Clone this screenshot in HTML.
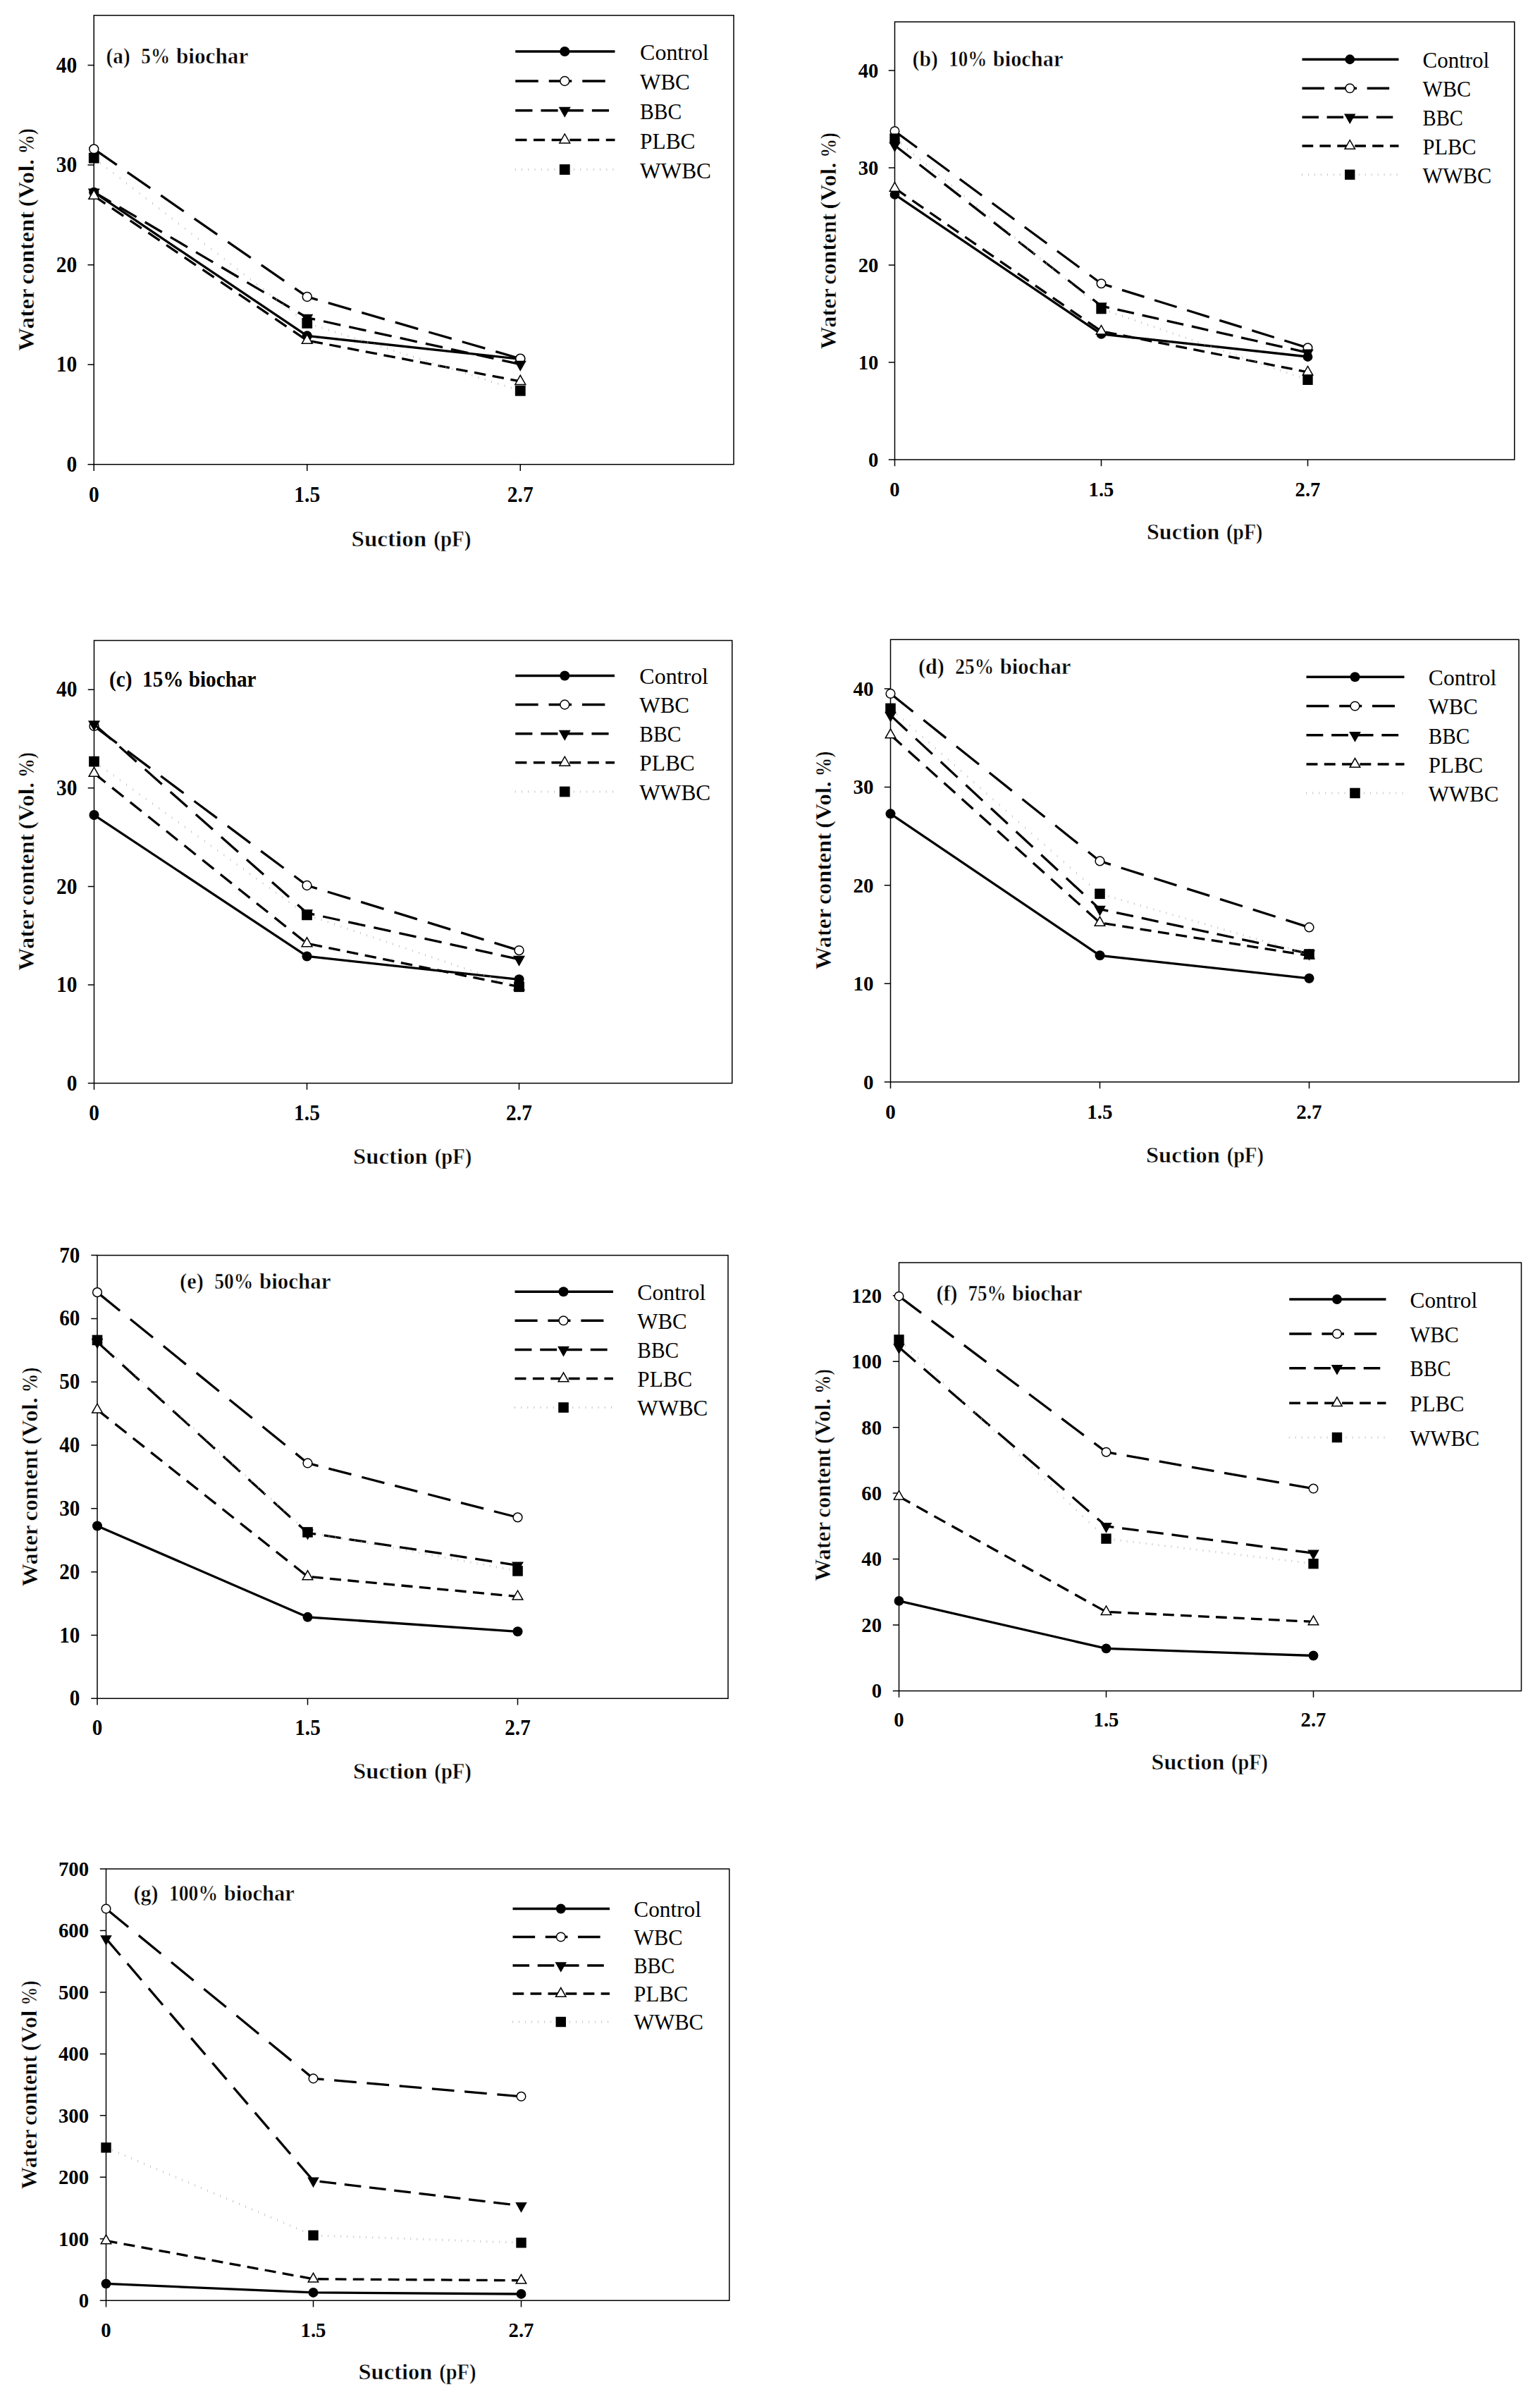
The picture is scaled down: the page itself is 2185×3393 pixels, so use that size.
<!DOCTYPE html>
<html lang="en">
<head>
<meta charset="utf-8">
<title>Water retention curves of biochar-amended soil</title>
<style>
html,body{margin:0;padding:0;background:#fff;}
body{width:2185px;height:3393px;overflow:hidden;}
svg{display:block;}
svg text{font-family:"Liberation Serif","DejaVu Serif",serif;fill:#000;}
</style>
</head>
<body>
<svg width="2185" height="3393" viewBox="0 0 2185 3393">
<rect x="0" y="0" width="2185" height="3393" fill="#fff"/>
<g id="chart-a">
<rect x="133.25" y="21.75" width="907.75" height="637" fill="none" stroke="#000" stroke-width="1.5"/>
<text x="109.25" y="668.95" font-size="30.9" font-weight="bold" text-anchor="end" textLength="14.75" lengthAdjust="spacingAndGlyphs">0</text>
<text x="109.25" y="527.39" font-size="30.9" font-weight="bold" text-anchor="end" textLength="29.51" lengthAdjust="spacingAndGlyphs">10</text>
<text x="109.25" y="385.84" font-size="30.9" font-weight="bold" text-anchor="end" textLength="29.51" lengthAdjust="spacingAndGlyphs">20</text>
<text x="109.25" y="244.28" font-size="30.9" font-weight="bold" text-anchor="end" textLength="29.51" lengthAdjust="spacingAndGlyphs">30</text>
<text x="109.25" y="102.73" font-size="30.9" font-weight="bold" text-anchor="end" textLength="29.51" lengthAdjust="spacingAndGlyphs">40</text>
<path d="M124.5 658.75H133.25M124.5 517.19H133.25M124.5 375.64H133.25M124.5 234.08H133.25M124.5 92.53H133.25M133.25 658.75V668M435.75 658.75V668M738.25 658.75V668" fill="none" stroke="#000" stroke-width="1.5"/>
<text x="133.25" y="711.5" font-size="30.9" font-weight="bold" text-anchor="middle" textLength="14.75" lengthAdjust="spacingAndGlyphs">0</text>
<text x="435.75" y="711.5" font-size="30.9" font-weight="bold" text-anchor="middle" textLength="36.89" lengthAdjust="spacingAndGlyphs">1.5</text>
<text x="738.25" y="711.5" font-size="30.9" font-weight="bold" text-anchor="middle" textLength="36.89" lengthAdjust="spacingAndGlyphs">2.7</text>
<text y="774.7" font-size="31.5" font-weight="bold" stroke="#fff" stroke-width="0.5"><tspan x="498.5" textLength="106.76" lengthAdjust="spacingAndGlyphs">Suction</tspan> <tspan x="615.22" textLength="53.18" lengthAdjust="spacingAndGlyphs">(pF)</tspan></text>
<text y="497.5" font-size="31.5" font-weight="bold" stroke="#fff" stroke-width="0.5" transform="rotate(-90 48 497.5)"><tspan x="47.6" textLength="87.97" lengthAdjust="spacingAndGlyphs">Water</tspan> <tspan x="141.91" textLength="103.66" lengthAdjust="spacingAndGlyphs">content</tspan> <tspan x="251.9" textLength="67.96" lengthAdjust="spacingAndGlyphs">(Vol.</tspan> <tspan x="326.91" textLength="36.49" lengthAdjust="spacingAndGlyphs">%)</tspan></text>
<text y="89.7" font-size="31.5" font-weight="bold" stroke="#fff" stroke-width="0.5"><tspan x="150.6" textLength="34.03" lengthAdjust="spacingAndGlyphs">(a)</tspan> <tspan x="200.36" textLength="40.74" lengthAdjust="spacingAndGlyphs">5%</tspan> <tspan x="249.91" textLength="102.49" lengthAdjust="spacingAndGlyphs">biochar</tspan></text>
<path d="M133.25 272.73L435.75 476.43L738.25 509.27" fill="none" stroke="#000" stroke-width="3.3"/>
<circle cx="133.25" cy="272.73" r="7.1" fill="#000"/>
<circle cx="435.75" cy="476.43" r="7.1" fill="#000"/>
<circle cx="738.25" cy="509.27" r="7.1" fill="#000"/>
<path d="M133.25 211.43L435.75 420.94" fill="none" stroke="#000" stroke-width="3.3" stroke-dasharray="39.53 18.25" stroke-dashoffset="0"/><path d="M435.75 420.94L738.25 508.7" fill="none" stroke="#000" stroke-width="3.3" stroke-dasharray="33.84 15.62" stroke-dashoffset="18.22"/>
<circle cx="133.25" cy="211.43" r="6.45" fill="#fff" stroke="#000" stroke-width="1.5"/>
<circle cx="435.75" cy="420.94" r="6.45" fill="#fff" stroke="#000" stroke-width="1.5"/>
<circle cx="738.25" cy="508.7" r="6.45" fill="#fff" stroke="#000" stroke-width="1.5"/>
<path d="M133.25 272.3L435.75 450.66" fill="none" stroke="#000" stroke-width="3.3" stroke-dasharray="28.09 13.93" stroke-dashoffset="0"/><path d="M435.75 450.66L738.25 516.77" fill="none" stroke="#000" stroke-width="3.3" stroke-dasharray="24.77 12.28" stroke-dashoffset="13.2"/>
<path d="M124.75 267.4L141.75 267.4L133.25 282.4Z" fill="#000"/>
<path d="M427.25 445.76L444.25 445.76L435.75 460.76Z" fill="#000"/>
<path d="M729.75 511.87L746.75 511.87L738.25 526.87Z" fill="#000"/>
<path d="M133.25 277.97L435.75 482.94" fill="none" stroke="#000" stroke-width="3.3" stroke-dasharray="19.57 11.48" stroke-dashoffset="0"/><path d="M435.75 482.94L738.25 540.98" fill="none" stroke="#000" stroke-width="3.3" stroke-dasharray="16.5 9.67" stroke-dashoffset="20.16"/>
<path d="M125.85 282.37L140.65 282.37L133.25 269.37Z" fill="#fff" stroke="#000" stroke-width="1.5" stroke-linejoin="miter"/>
<path d="M428.35 487.34L443.15 487.34L435.75 474.34Z" fill="#fff" stroke="#000" stroke-width="1.5" stroke-linejoin="miter"/>
<path d="M730.85 545.38L745.65 545.38L738.25 532.38Z" fill="#fff" stroke="#000" stroke-width="1.5" stroke-linejoin="miter"/>
<path d="M133.25 222.67v3M142.5 229.84v3M151.75 237v3M161 244.17v3M170.25 251.33v3M179.5 258.49v3M188.75 265.66v3M198 272.82v3M207.25 279.98v3M216.5 287.15v3M225.75 294.31v3M235 301.48v3M244.25 308.64v3M253.5 315.8v3M262.75 322.97v3M272 330.13v3M281.25 337.29v3M290.5 344.46v3M299.75 351.62v3M309 358.79v3M318.25 365.95v3M327.5 373.11v3M336.75 380.28v3M346 387.44v3M355.25 394.6v3M364.5 401.77v3M373.75 408.93v3M383 416.1v3M392.25 423.26v3M401.5 430.42v3M410.75 437.59v3M420 444.75v3M429.25 451.91v3M438.5 457.82v3M447.75 460.75v3M457 463.68v3M466.25 466.61v3M475.5 469.54v3M484.75 472.47v3M494 475.4v3M503.25 478.33v3M512.5 481.26v3M521.75 484.19v3M531 487.12v3M540.25 490.05v3M549.5 492.99v3M558.75 495.92v3M568 498.85v3M577.25 501.78v3M586.5 504.71v3M595.75 507.64v3M605 510.57v3M614.25 513.5v3M623.5 516.43v3M632.75 519.36v3M642 522.29v3M651.25 525.22v3M660.5 528.15v3M669.75 531.08v3M679 534.01v3M688.25 536.94v3M697.5 539.87v3M706.75 542.8v3M716 545.73v3M725.25 548.66v3M734.5 551.59v3" fill="none" stroke="#b4b4b4" stroke-width="0.8"/>
<rect x="125.85" y="216.77" width="14.8" height="14.8" fill="#000"/>
<rect x="428.35" y="451.05" width="14.8" height="14.8" fill="#000"/>
<rect x="730.85" y="546.88" width="14.8" height="14.8" fill="#000"/>
<path d="M731.25 73L872.5 73" fill="none" stroke="#000" stroke-width="3.3"/>
<circle cx="801.25" cy="73" r="7.1" fill="#000"/>
<text x="908.1" y="85" font-size="31.5" textLength="97.66" lengthAdjust="spacingAndGlyphs">Control</text>
<path d="M731.25 115L872.5 115" fill="none" stroke="#000" stroke-width="3.3" stroke-dasharray="32.5 15" stroke-dashoffset="0"/>
<circle cx="801.25" cy="115" r="6.45" fill="#fff" stroke="#000" stroke-width="1.5"/>
<text x="908.1" y="127" font-size="31.5" textLength="70.71" lengthAdjust="spacingAndGlyphs">WBC</text>
<path d="M731.25 156.75L872.5 156.75" fill="none" stroke="#000" stroke-width="3.3" stroke-dasharray="24.2 12" stroke-dashoffset="0"/>
<path d="M792.75 151.85L809.75 151.85L801.25 166.85Z" fill="#000"/>
<text x="908.1" y="168.75" font-size="31.5" textLength="59.08" lengthAdjust="spacingAndGlyphs">BBC</text>
<path d="M731.25 198.5L872.5 198.5" fill="none" stroke="#000" stroke-width="3.3" stroke-dasharray="16.2 9.5" stroke-dashoffset="0"/>
<path d="M793.85 202.9L808.65 202.9L801.25 189.9Z" fill="#fff" stroke="#000" stroke-width="1.5" stroke-linejoin="miter"/>
<text x="908.1" y="210.5" font-size="31.5" textLength="78.42" lengthAdjust="spacingAndGlyphs">PLBC</text>
<path d="M731.25 239v3M740.5 239v3M749.75 239v3M759 239v3M768.25 239v3M777.5 239v3M786.75 239v3M796 239v3M805.25 239v3M814.5 239v3M823.75 239v3M833 239v3M842.25 239v3M851.5 239v3M860.75 239v3M870 239v3" fill="none" stroke="#b4b4b4" stroke-width="0.8"/>
<rect x="793.85" y="233.1" width="14.8" height="14.8" fill="#000"/>
<text x="908.1" y="252.5" font-size="31.5" textLength="100.79" lengthAdjust="spacingAndGlyphs">WWBC</text>
</g>
<g id="chart-b">
<rect x="1269.5" y="31" width="879.25" height="621" fill="none" stroke="#000" stroke-width="1.5"/>
<text x="1246.3" y="661.89" font-size="29.97" font-weight="bold" text-anchor="end" textLength="14.31" lengthAdjust="spacingAndGlyphs">0</text>
<text x="1246.3" y="523.89" font-size="29.97" font-weight="bold" text-anchor="end" textLength="28.62" lengthAdjust="spacingAndGlyphs">10</text>
<text x="1246.3" y="385.89" font-size="29.97" font-weight="bold" text-anchor="end" textLength="28.62" lengthAdjust="spacingAndGlyphs">20</text>
<text x="1246.3" y="247.89" font-size="29.97" font-weight="bold" text-anchor="end" textLength="28.62" lengthAdjust="spacingAndGlyphs">30</text>
<text x="1246.3" y="109.89" font-size="29.97" font-weight="bold" text-anchor="end" textLength="28.62" lengthAdjust="spacingAndGlyphs">40</text>
<path d="M1260.75 652H1269.5M1260.75 514H1269.5M1260.75 376H1269.5M1260.75 238H1269.5M1260.75 100H1269.5M1269.5 652V661.25M1562.5 652V661.25M1855.5 652V661.25" fill="none" stroke="#000" stroke-width="1.5"/>
<text x="1269.5" y="703.5" font-size="29.97" font-weight="bold" text-anchor="middle" textLength="14.31" lengthAdjust="spacingAndGlyphs">0</text>
<text x="1562.5" y="703.5" font-size="29.97" font-weight="bold" text-anchor="middle" textLength="35.78" lengthAdjust="spacingAndGlyphs">1.5</text>
<text x="1855.5" y="703.5" font-size="29.97" font-weight="bold" text-anchor="middle" textLength="35.78" lengthAdjust="spacingAndGlyphs">2.7</text>
<text y="764.7" font-size="30.55" font-weight="bold" stroke="#fff" stroke-width="0.5"><tspan x="1627" textLength="103.33" lengthAdjust="spacingAndGlyphs">Suction</tspan> <tspan x="1739.93" textLength="51.47" lengthAdjust="spacingAndGlyphs">(pF)</tspan></text>
<text y="495" font-size="30.55" font-weight="bold" stroke="#fff" stroke-width="0.5" transform="rotate(-90 1186 495)"><tspan x="1185.6" textLength="85.62" lengthAdjust="spacingAndGlyphs">Water</tspan> <tspan x="1277.36" textLength="100.88" lengthAdjust="spacingAndGlyphs">content</tspan> <tspan x="1384.39" textLength="66.15" lengthAdjust="spacingAndGlyphs">(Vol.</tspan> <tspan x="1457.37" textLength="35.53" lengthAdjust="spacingAndGlyphs">%)</tspan></text>
<text y="94.3" font-size="30.55" font-weight="bold" stroke="#fff" stroke-width="0.5"><tspan x="1294.6" textLength="36.31" lengthAdjust="spacingAndGlyphs">(b)</tspan> <tspan x="1346.16" textLength="54.17" lengthAdjust="spacingAndGlyphs">10%</tspan> <tspan x="1408.86" textLength="99.54" lengthAdjust="spacingAndGlyphs">biochar</tspan></text>
<path d="M1269.5 275.95L1562.5 473.98L1855.5 506" fill="none" stroke="#000" stroke-width="3.3"/>
<circle cx="1269.5" cy="275.95" r="6.89" fill="#000"/>
<circle cx="1562.5" cy="473.98" r="6.89" fill="#000"/>
<circle cx="1855.5" cy="506" r="6.89" fill="#000"/>
<path d="M1269.5 185.97L1562.5 402.22" fill="none" stroke="#000" stroke-width="3.3" stroke-dasharray="39.18 18.08" stroke-dashoffset="0"/><path d="M1562.5 402.22L1855.5 493.3" fill="none" stroke="#000" stroke-width="3.3" stroke-dasharray="33.01 15.24" stroke-dashoffset="17.36"/>
<circle cx="1269.5" cy="185.97" r="6.24" fill="#fff" stroke="#000" stroke-width="1.5"/>
<circle cx="1562.5" cy="402.22" r="6.24" fill="#fff" stroke="#000" stroke-width="1.5"/>
<circle cx="1855.5" cy="493.3" r="6.24" fill="#fff" stroke="#000" stroke-width="1.5"/>
<path d="M1269.5 206.26L1562.5 433.96" fill="none" stroke="#000" stroke-width="3.3" stroke-dasharray="29.73 14.74" stroke-dashoffset="0"/><path d="M1562.5 433.96L1855.5 500.2" fill="none" stroke="#000" stroke-width="3.3" stroke-dasharray="24.06 11.93" stroke-dashoffset="12.42"/>
<path d="M1261.26 201.51L1277.74 201.51L1269.5 216.06Z" fill="#000"/>
<path d="M1554.26 429.21L1570.74 429.21L1562.5 443.76Z" fill="#000"/>
<path d="M1847.26 495.45L1863.74 495.45L1855.5 510Z" fill="#000"/>
<path d="M1269.5 266.98L1562.5 469.84" fill="none" stroke="#000" stroke-width="3.3" stroke-dasharray="19.11 11.21" stroke-dashoffset="0"/><path d="M1562.5 469.84L1855.5 527.8" fill="none" stroke="#000" stroke-width="3.3" stroke-dasharray="16.02 9.39" stroke-dashoffset="19.17"/>
<path d="M1262.32 271.25L1276.68 271.25L1269.5 258.64Z" fill="#fff" stroke="#000" stroke-width="1.5" stroke-linejoin="miter"/>
<path d="M1555.32 474.11L1569.68 474.11L1562.5 461.5Z" fill="#fff" stroke="#000" stroke-width="1.5" stroke-linejoin="miter"/>
<path d="M1848.32 532.07L1862.68 532.07L1855.5 519.46Z" fill="#fff" stroke="#000" stroke-width="1.5" stroke-linejoin="miter"/>
<path d="M1269.5 195.1v3M1278.47 202.49v3M1287.44 209.89v3M1296.42 217.28v3M1305.39 224.68v3M1314.36 232.07v3M1323.33 239.47v3M1332.3 246.86v3M1341.27 254.26v3M1350.25 261.65v3M1359.22 269.05v3M1368.19 276.44v3M1377.16 283.84v3M1386.13 291.23v3M1395.1 298.63v3M1404.08 306.02v3M1413.05 313.42v3M1422.02 320.81v3M1430.99 328.21v3M1439.96 335.6v3M1448.93 342.99v3M1457.91 350.39v3M1466.88 357.78v3M1475.85 365.18v3M1484.82 372.57v3M1493.79 379.97v3M1502.76 387.36v3M1511.74 394.76v3M1520.71 402.15v3M1529.68 409.55v3M1538.65 416.94v3M1547.62 424.34v3M1556.59 431.73v3M1565.57 437.65v3M1574.54 440.74v3M1583.51 443.82v3M1592.48 446.91v3M1601.45 449.99v3M1610.42 453.08v3M1619.4 456.16v3M1628.37 459.25v3M1637.34 462.33v3M1646.31 465.42v3M1655.28 468.5v3M1664.25 471.59v3M1673.23 474.67v3M1682.2 477.75v3M1691.17 480.84v3M1700.14 483.92v3M1709.11 487.01v3M1718.08 490.09v3M1727.06 493.18v3M1736.03 496.26v3M1745 499.35v3M1753.97 502.43v3M1762.94 505.52v3M1771.91 508.6v3M1780.89 511.69v3M1789.86 514.77v3M1798.83 517.86v3M1807.8 520.94v3M1816.77 524.02v3M1825.74 527.11v3M1834.72 530.19v3M1843.69 533.28v3M1852.66 536.36v3" fill="none" stroke="#b4b4b4" stroke-width="0.8"/>
<rect x="1262.32" y="189.42" width="14.35" height="14.35" fill="#000"/>
<rect x="1555.32" y="430.92" width="14.35" height="14.35" fill="#000"/>
<rect x="1848.32" y="531.66" width="14.35" height="14.35" fill="#000"/>
<path d="M1847.5 84.25L1984.5 84.25" fill="none" stroke="#000" stroke-width="3.3"/>
<circle cx="1915.25" cy="84.25" r="6.89" fill="#000"/>
<text x="2018.6" y="96.25" font-size="30.55" textLength="94.58" lengthAdjust="spacingAndGlyphs">Control</text>
<path d="M1847.5 125.25L1984.5 125.25" fill="none" stroke="#000" stroke-width="3.3" stroke-dasharray="31.52 14.55" stroke-dashoffset="0"/>
<circle cx="1915.25" cy="125.25" r="6.24" fill="#fff" stroke="#000" stroke-width="1.5"/>
<text x="2018.6" y="137.25" font-size="30.55" textLength="68.47" lengthAdjust="spacingAndGlyphs">WBC</text>
<path d="M1847.5 166.25L1984.5 166.25" fill="none" stroke="#000" stroke-width="3.3" stroke-dasharray="23.47 11.64" stroke-dashoffset="0"/>
<path d="M1907.01 161.5L1923.49 161.5L1915.25 176.05Z" fill="#000"/>
<text x="2018.6" y="178.25" font-size="30.55" textLength="57.22" lengthAdjust="spacingAndGlyphs">BBC</text>
<path d="M1847.5 207L1984.5 207" fill="none" stroke="#000" stroke-width="3.3" stroke-dasharray="15.71 9.21" stroke-dashoffset="0"/>
<path d="M1908.07 211.27L1922.43 211.27L1915.25 198.66Z" fill="#fff" stroke="#000" stroke-width="1.5" stroke-linejoin="miter"/>
<text x="2018.6" y="219" font-size="30.55" textLength="75.94" lengthAdjust="spacingAndGlyphs">PLBC</text>
<path d="M1847.5 246.25v3M1856.47 246.25v3M1865.44 246.25v3M1874.42 246.25v3M1883.39 246.25v3M1892.36 246.25v3M1901.33 246.25v3M1910.3 246.25v3M1919.27 246.25v3M1928.25 246.25v3M1937.22 246.25v3M1946.19 246.25v3M1955.16 246.25v3M1964.13 246.25v3M1973.1 246.25v3M1982.08 246.25v3" fill="none" stroke="#b4b4b4" stroke-width="0.8"/>
<rect x="1908.07" y="240.57" width="14.35" height="14.35" fill="#000"/>
<text x="2018.6" y="259.75" font-size="30.55" textLength="97.6" lengthAdjust="spacingAndGlyphs">WWBC</text>
</g>
<g id="chart-c">
<rect x="133.5" y="908.5" width="905.25" height="628" fill="none" stroke="#000" stroke-width="1.5"/>
<text x="109.5" y="1546.66" font-size="30.79" font-weight="bold" text-anchor="end" textLength="14.7" lengthAdjust="spacingAndGlyphs">0</text>
<text x="109.5" y="1407.11" font-size="30.79" font-weight="bold" text-anchor="end" textLength="29.41" lengthAdjust="spacingAndGlyphs">10</text>
<text x="109.5" y="1267.55" font-size="30.79" font-weight="bold" text-anchor="end" textLength="29.41" lengthAdjust="spacingAndGlyphs">20</text>
<text x="109.5" y="1128" font-size="30.79" font-weight="bold" text-anchor="end" textLength="29.41" lengthAdjust="spacingAndGlyphs">30</text>
<text x="109.5" y="988.44" font-size="30.79" font-weight="bold" text-anchor="end" textLength="29.41" lengthAdjust="spacingAndGlyphs">40</text>
<path d="M124.75 1536.5H133.5M124.75 1396.94H133.5M124.75 1257.39H133.5M124.75 1117.83H133.5M124.75 978.28H133.5M133.5 1536.5V1545.75M435.5 1536.5V1545.75M736.5 1536.5V1545.75" fill="none" stroke="#000" stroke-width="1.5"/>
<text x="133.5" y="1588.5" font-size="30.79" font-weight="bold" text-anchor="middle" textLength="14.7" lengthAdjust="spacingAndGlyphs">0</text>
<text x="435.5" y="1588.5" font-size="30.79" font-weight="bold" text-anchor="middle" textLength="36.76" lengthAdjust="spacingAndGlyphs">1.5</text>
<text x="736.5" y="1588.5" font-size="30.79" font-weight="bold" text-anchor="middle" textLength="36.76" lengthAdjust="spacingAndGlyphs">2.7</text>
<text y="1650.7" font-size="31.39" font-weight="bold" stroke="#fff" stroke-width="0.5"><tspan x="501" textLength="105.83" lengthAdjust="spacingAndGlyphs">Suction</tspan> <tspan x="616.69" textLength="52.71" lengthAdjust="spacingAndGlyphs">(pF)</tspan></text>
<text y="1376.5" font-size="31.39" font-weight="bold" stroke="#fff" stroke-width="0.5" transform="rotate(-90 48 1376.5)"><tspan x="47.6" textLength="86.31" lengthAdjust="spacingAndGlyphs">Water</tspan> <tspan x="140.11" textLength="101.7" lengthAdjust="spacingAndGlyphs">content</tspan> <tspan x="248.01" textLength="66.68" lengthAdjust="spacingAndGlyphs">(Vol.</tspan> <tspan x="321.59" textLength="35.81" lengthAdjust="spacingAndGlyphs">%)</tspan></text>
<text x="155" y="973.5" font-size="31.39" font-weight="bold" textLength="208.5" lengthAdjust="spacingAndGlyphs">(c)&#160; 15% biochar</text>
<path d="M133.5 1156.07L435.5 1356.47L736.5 1389.27" fill="none" stroke="#000" stroke-width="3.3"/>
<circle cx="133.5" cy="1156.07" r="7.07" fill="#000"/>
<circle cx="435.5" cy="1356.47" r="7.07" fill="#000"/>
<circle cx="736.5" cy="1389.27" r="7.07" fill="#000"/>
<path d="M133.5 1029.91L435.5 1255.99" fill="none" stroke="#000" stroke-width="3.3" stroke-dasharray="40.45 18.67" stroke-dashoffset="0"/><path d="M435.5 1255.99L736.5 1348.1" fill="none" stroke="#000" stroke-width="3.3" stroke-dasharray="33.87 15.63" stroke-dashoffset="18.83"/>
<circle cx="133.5" cy="1029.91" r="6.42" fill="#fff" stroke="#000" stroke-width="1.5"/>
<circle cx="435.5" cy="1255.99" r="6.42" fill="#fff" stroke="#000" stroke-width="1.5"/>
<circle cx="736.5" cy="1348.1" r="6.42" fill="#fff" stroke="#000" stroke-width="1.5"/>
<path d="M133.5 1027.12L435.5 1295.07" fill="none" stroke="#000" stroke-width="3.3" stroke-dasharray="32.24 15.99" stroke-dashoffset="0"/><path d="M435.5 1295.07L736.5 1360.66" fill="none" stroke="#000" stroke-width="3.3" stroke-dasharray="24.68 12.24" stroke-dashoffset="13.74"/>
<path d="M125.03 1022.24L141.97 1022.24L133.5 1037.19Z" fill="#000"/>
<path d="M427.03 1290.19L443.97 1290.19L435.5 1305.13Z" fill="#000"/>
<path d="M728.03 1355.78L744.97 1355.78L736.5 1370.72Z" fill="#000"/>
<path d="M133.5 1096.9L435.5 1338.33" fill="none" stroke="#000" stroke-width="3.3" stroke-dasharray="20.67 12.12" stroke-dashoffset="0"/><path d="M435.5 1338.33L736.5 1399.74" fill="none" stroke="#000" stroke-width="3.3" stroke-dasharray="16.48 9.66" stroke-dashoffset="20.72"/>
<path d="M126.13 1101.28L140.87 1101.28L133.5 1088.33Z" fill="#fff" stroke="#000" stroke-width="1.5" stroke-linejoin="miter"/>
<path d="M428.13 1342.72L442.87 1342.72L435.5 1329.76Z" fill="#fff" stroke="#000" stroke-width="1.5" stroke-linejoin="miter"/>
<path d="M729.13 1404.12L743.87 1404.12L736.5 1391.17Z" fill="#fff" stroke="#000" stroke-width="1.5" stroke-linejoin="miter"/>
<path d="M133.5 1078.65v3M142.72 1085.3v3M151.93 1091.94v3M161.15 1098.59v3M170.37 1105.23v3M179.59 1111.88v3M188.8 1118.52v3M198.02 1125.17v3M207.24 1131.81v3M216.46 1138.45v3M225.67 1145.1v3M234.89 1151.74v3M244.11 1158.39v3M253.32 1165.03v3M262.54 1171.68v3M271.76 1178.32v3M280.98 1184.97v3M290.19 1191.61v3M299.41 1198.26v3M308.63 1204.9v3M317.85 1211.54v3M327.06 1218.19v3M336.28 1224.83v3M345.5 1231.48v3M354.71 1238.12v3M363.93 1244.77v3M373.15 1251.41v3M382.37 1258.06v3M391.58 1264.7v3M400.8 1271.35v3M410.02 1277.99v3M419.23 1284.63v3M428.45 1291.28v3M437.67 1297.09v3M446.89 1300.21v3M456.1 1303.33v3M465.32 1306.45v3M474.54 1309.57v3M483.76 1312.69v3M492.97 1315.81v3M502.19 1318.93v3M511.41 1322.05v3M520.62 1325.17v3M529.84 1328.29v3M539.06 1331.41v3M548.28 1334.53v3M557.49 1337.65v3M566.71 1340.77v3M575.93 1343.89v3M585.15 1347.01v3M594.36 1350.13v3M603.58 1353.25v3M612.8 1356.37v3M622.01 1359.49v3M631.23 1362.61v3M640.45 1365.73v3M649.67 1368.85v3M658.88 1371.97v3M668.1 1375.09v3M677.32 1378.21v3M686.54 1381.32v3M695.75 1384.44v3M704.97 1387.56v3M714.19 1390.68v3M723.4 1393.8v3M732.62 1396.92v3" fill="none" stroke="#b4b4b4" stroke-width="0.8"/>
<rect x="126.13" y="1072.78" width="14.75" height="14.75" fill="#000"/>
<rect x="428.13" y="1290.49" width="14.75" height="14.75" fill="#000"/>
<rect x="729.13" y="1392.36" width="14.75" height="14.75" fill="#000"/>
<path d="M731.25 958.5L872 958.5" fill="none" stroke="#000" stroke-width="3.3"/>
<circle cx="801.25" cy="958.5" r="7.07" fill="#000"/>
<text x="907.35" y="970" font-size="31.39" textLength="97.66" lengthAdjust="spacingAndGlyphs">Control</text>
<path d="M731.25 999.5L872 999.5" fill="none" stroke="#000" stroke-width="3.3" stroke-dasharray="32.38 14.95" stroke-dashoffset="0"/>
<circle cx="801.25" cy="999.5" r="6.42" fill="#fff" stroke="#000" stroke-width="1.5"/>
<text x="907.35" y="1011" font-size="31.39" textLength="70.71" lengthAdjust="spacingAndGlyphs">WBC</text>
<path d="M731.25 1040.75L872 1040.75" fill="none" stroke="#000" stroke-width="3.3" stroke-dasharray="24.11 11.96" stroke-dashoffset="0"/>
<path d="M792.78 1035.87L809.72 1035.87L801.25 1050.81Z" fill="#000"/>
<text x="907.35" y="1052.25" font-size="31.39" textLength="59.08" lengthAdjust="spacingAndGlyphs">BBC</text>
<path d="M731.25 1081.75L872 1081.75" fill="none" stroke="#000" stroke-width="3.3" stroke-dasharray="16.14 9.47" stroke-dashoffset="0"/>
<path d="M793.88 1086.13L808.62 1086.13L801.25 1073.18Z" fill="#fff" stroke="#000" stroke-width="1.5" stroke-linejoin="miter"/>
<text x="907.35" y="1093.25" font-size="31.39" textLength="78.42" lengthAdjust="spacingAndGlyphs">PLBC</text>
<path d="M731.25 1121.5v3M740.47 1121.5v3M749.68 1121.5v3M758.9 1121.5v3M768.12 1121.5v3M777.34 1121.5v3M786.55 1121.5v3M795.77 1121.5v3M804.99 1121.5v3M814.21 1121.5v3M823.42 1121.5v3M832.64 1121.5v3M841.86 1121.5v3M851.07 1121.5v3M860.29 1121.5v3M869.51 1121.5v3" fill="none" stroke="#b4b4b4" stroke-width="0.8"/>
<rect x="793.88" y="1115.63" width="14.75" height="14.75" fill="#000"/>
<text x="907.35" y="1134.5" font-size="31.39" textLength="100.79" lengthAdjust="spacingAndGlyphs">WWBC</text>
</g>
<g id="chart-d">
<rect x="1263.5" y="907.25" width="891.5" height="627.5" fill="none" stroke="#000" stroke-width="1.5"/>
<text x="1239.5" y="1544.79" font-size="30.41" font-weight="bold" text-anchor="end" textLength="14.52" lengthAdjust="spacingAndGlyphs">0</text>
<text x="1239.5" y="1405.34" font-size="30.41" font-weight="bold" text-anchor="end" textLength="29.04" lengthAdjust="spacingAndGlyphs">10</text>
<text x="1239.5" y="1265.9" font-size="30.41" font-weight="bold" text-anchor="end" textLength="29.04" lengthAdjust="spacingAndGlyphs">20</text>
<text x="1239.5" y="1126.45" font-size="30.41" font-weight="bold" text-anchor="end" textLength="29.04" lengthAdjust="spacingAndGlyphs">30</text>
<text x="1239.5" y="987.01" font-size="30.41" font-weight="bold" text-anchor="end" textLength="29.04" lengthAdjust="spacingAndGlyphs">40</text>
<path d="M1254.75 1534.75H1263.5M1254.75 1395.31H1263.5M1254.75 1255.86H1263.5M1254.75 1116.42H1263.5M1254.75 976.97H1263.5M1263.5 1534.75V1544M1560.5 1534.75V1544M1857.5 1534.75V1544" fill="none" stroke="#000" stroke-width="1.5"/>
<text x="1263.5" y="1586.5" font-size="30.41" font-weight="bold" text-anchor="middle" textLength="14.52" lengthAdjust="spacingAndGlyphs">0</text>
<text x="1560.5" y="1586.5" font-size="30.41" font-weight="bold" text-anchor="middle" textLength="36.3" lengthAdjust="spacingAndGlyphs">1.5</text>
<text x="1857.5" y="1586.5" font-size="30.41" font-weight="bold" text-anchor="middle" textLength="36.3" lengthAdjust="spacingAndGlyphs">2.7</text>
<text y="1649.2" font-size="31" font-weight="bold" stroke="#fff" stroke-width="0.5"><tspan x="1626" textLength="104.89" lengthAdjust="spacingAndGlyphs">Suction</tspan> <tspan x="1740.65" textLength="52.25" lengthAdjust="spacingAndGlyphs">(pF)</tspan></text>
<text y="1375" font-size="31" font-weight="bold" stroke="#fff" stroke-width="0.5" transform="rotate(-90 1179 1375)"><tspan x="1178.6" textLength="86.31" lengthAdjust="spacingAndGlyphs">Water</tspan> <tspan x="1271.11" textLength="101.7" lengthAdjust="spacingAndGlyphs">content</tspan> <tspan x="1379.01" textLength="66.68" lengthAdjust="spacingAndGlyphs">(Vol.</tspan> <tspan x="1452.59" textLength="35.81" lengthAdjust="spacingAndGlyphs">%)</tspan></text>
<text y="955.7" font-size="31" font-weight="bold" stroke="#fff" stroke-width="0.5"><tspan x="1303.1" textLength="36.73" lengthAdjust="spacingAndGlyphs">(d)</tspan> <tspan x="1355.26" textLength="54.79" lengthAdjust="spacingAndGlyphs">25%</tspan> <tspan x="1418.7" textLength="100.7" lengthAdjust="spacingAndGlyphs">biochar</tspan></text>
<path d="M1263.5 1154.35L1560.5 1355.29L1857.5 1387.78" fill="none" stroke="#000" stroke-width="3.3"/>
<circle cx="1263.5" cy="1154.35" r="6.99" fill="#000"/>
<circle cx="1560.5" cy="1355.29" r="6.99" fill="#000"/>
<circle cx="1857.5" cy="1387.78" r="6.99" fill="#000"/>
<path d="M1263.5 983.94L1560.5 1221.42" fill="none" stroke="#000" stroke-width="3.3" stroke-dasharray="40.95 18.9" stroke-dashoffset="0"/><path d="M1560.5 1221.42L1857.5 1315.4" fill="none" stroke="#000" stroke-width="3.3" stroke-dasharray="33.55 15.48" stroke-dashoffset="17.35"/>
<circle cx="1263.5" cy="983.94" r="6.34" fill="#fff" stroke="#000" stroke-width="1.5"/>
<circle cx="1560.5" cy="1221.42" r="6.34" fill="#fff" stroke="#000" stroke-width="1.5"/>
<circle cx="1857.5" cy="1315.4" r="6.34" fill="#fff" stroke="#000" stroke-width="1.5"/>
<path d="M1263.5 1014.62L1560.5 1289.61" fill="none" stroke="#000" stroke-width="3.3" stroke-dasharray="32.45 16.09" stroke-dashoffset="0"/><path d="M1560.5 1289.61L1857.5 1352.78" fill="none" stroke="#000" stroke-width="3.3" stroke-dasharray="24.35 12.07" stroke-dashoffset="12.28"/>
<path d="M1255.14 1009.8L1271.86 1009.8L1263.5 1024.56Z" fill="#000"/>
<path d="M1552.14 1284.78L1568.86 1284.78L1560.5 1299.55Z" fill="#000"/>
<path d="M1849.14 1347.95L1865.86 1347.95L1857.5 1362.71Z" fill="#000"/>
<path d="M1263.5 1042.51L1560.5 1308.85" fill="none" stroke="#000" stroke-width="3.3" stroke-dasharray="21.41 12.56" stroke-dashoffset="0"/><path d="M1560.5 1308.85L1857.5 1355.56" fill="none" stroke="#000" stroke-width="3.3" stroke-dasharray="16.14 9.46" stroke-dashoffset="19.03"/>
<path d="M1256.22 1046.84L1270.78 1046.84L1263.5 1034.05Z" fill="#fff" stroke="#000" stroke-width="1.5" stroke-linejoin="miter"/>
<path d="M1553.22 1313.18L1567.78 1313.18L1560.5 1300.39Z" fill="#fff" stroke="#000" stroke-width="1.5" stroke-linejoin="miter"/>
<path d="M1850.22 1359.89L1864.78 1359.89L1857.5 1347.1Z" fill="#fff" stroke="#000" stroke-width="1.5" stroke-linejoin="miter"/>
<path d="M1263.5 1003.36v3M1272.6 1011.42v3M1281.71 1019.48v3M1290.81 1027.54v3M1299.91 1035.6v3M1309.01 1043.66v3M1318.12 1051.72v3M1327.22 1059.78v3M1336.32 1067.84v3M1345.42 1075.9v3M1354.53 1083.96v3M1363.63 1092.03v3M1372.73 1100.09v3M1381.83 1108.15v3M1390.94 1116.21v3M1400.04 1124.27v3M1409.14 1132.33v3M1418.25 1140.39v3M1427.35 1148.45v3M1436.45 1156.51v3M1445.55 1164.57v3M1454.66 1172.63v3M1463.76 1180.69v3M1472.86 1188.75v3M1481.96 1196.81v3M1491.07 1204.87v3M1500.17 1212.93v3M1509.27 1220.99v3M1518.37 1229.05v3M1527.48 1237.11v3M1536.58 1245.17v3M1545.68 1253.23v3M1554.78 1261.29v3M1563.89 1267.33v3M1572.99 1269.95v3M1582.09 1272.58v3M1591.2 1275.2v3M1600.3 1277.83v3M1609.4 1280.45v3M1618.5 1283.07v3M1627.61 1285.7v3M1636.71 1288.32v3M1645.81 1290.95v3M1654.91 1293.57v3M1664.02 1296.2v3M1673.12 1298.82v3M1682.22 1301.44v3M1691.32 1304.07v3M1700.43 1306.69v3M1709.53 1309.32v3M1718.63 1311.94v3M1727.74 1314.56v3M1736.84 1317.19v3M1745.94 1319.81v3M1755.04 1322.44v3M1764.15 1325.06v3M1773.25 1327.68v3M1782.35 1330.31v3M1791.45 1332.93v3M1800.56 1335.56v3M1809.66 1338.18v3M1818.76 1340.8v3M1827.86 1343.43v3M1836.97 1346.05v3M1846.07 1348.68v3M1855.17 1351.3v3" fill="none" stroke="#b4b4b4" stroke-width="0.8"/>
<rect x="1256.22" y="997.58" width="14.56" height="14.56" fill="#000"/>
<rect x="1553.22" y="1260.57" width="14.56" height="14.56" fill="#000"/>
<rect x="1850.22" y="1346.19" width="14.56" height="14.56" fill="#000"/>
<path d="M1853.5 960.25L1992.5 960.25" fill="none" stroke="#000" stroke-width="3.3"/>
<circle cx="1922.5" cy="960.25" r="6.99" fill="#000"/>
<text x="2026.85" y="972" font-size="31" textLength="96.38" lengthAdjust="spacingAndGlyphs">Control</text>
<path d="M1853.5 1001.5L1992.5 1001.5" fill="none" stroke="#000" stroke-width="3.3" stroke-dasharray="31.98 14.76" stroke-dashoffset="0"/>
<circle cx="1922.5" cy="1001.5" r="6.34" fill="#fff" stroke="#000" stroke-width="1.5"/>
<text x="2026.85" y="1013.25" font-size="31" textLength="69.78" lengthAdjust="spacingAndGlyphs">WBC</text>
<path d="M1853.5 1042.75L1992.5 1042.75" fill="none" stroke="#000" stroke-width="3.3" stroke-dasharray="23.81 11.81" stroke-dashoffset="0"/>
<path d="M1914.14 1037.93L1930.86 1037.93L1922.5 1052.69Z" fill="#000"/>
<text x="2026.85" y="1054.5" font-size="31" textLength="58.31" lengthAdjust="spacingAndGlyphs">BBC</text>
<path d="M1853.5 1084L1992.5 1084" fill="none" stroke="#000" stroke-width="3.3" stroke-dasharray="15.94 9.35" stroke-dashoffset="0"/>
<path d="M1915.22 1088.33L1929.78 1088.33L1922.5 1075.54Z" fill="#fff" stroke="#000" stroke-width="1.5" stroke-linejoin="miter"/>
<text x="2026.85" y="1095.75" font-size="31" textLength="77.39" lengthAdjust="spacingAndGlyphs">PLBC</text>
<path d="M1853.5 1123.5v3M1862.6 1123.5v3M1871.71 1123.5v3M1880.81 1123.5v3M1889.91 1123.5v3M1899.01 1123.5v3M1908.12 1123.5v3M1917.22 1123.5v3M1926.32 1123.5v3M1935.42 1123.5v3M1944.53 1123.5v3M1953.63 1123.5v3M1962.73 1123.5v3M1971.83 1123.5v3M1980.94 1123.5v3M1990.04 1123.5v3" fill="none" stroke="#b4b4b4" stroke-width="0.8"/>
<rect x="1915.22" y="1117.72" width="14.56" height="14.56" fill="#000"/>
<text x="2026.85" y="1136.75" font-size="31" textLength="99.46" lengthAdjust="spacingAndGlyphs">WWBC</text>
</g>
<g id="chart-e">
<rect x="138" y="1780.6" width="895" height="628.65" fill="none" stroke="#000" stroke-width="1.5"/>
<text x="113.3" y="2419.32" font-size="30.52" font-weight="bold" text-anchor="end" textLength="14.57" lengthAdjust="spacingAndGlyphs">0</text>
<text x="113.3" y="2329.52" font-size="30.52" font-weight="bold" text-anchor="end" textLength="29.14" lengthAdjust="spacingAndGlyphs">10</text>
<text x="113.3" y="2239.71" font-size="30.52" font-weight="bold" text-anchor="end" textLength="29.14" lengthAdjust="spacingAndGlyphs">20</text>
<text x="113.3" y="2149.9" font-size="30.52" font-weight="bold" text-anchor="end" textLength="29.14" lengthAdjust="spacingAndGlyphs">30</text>
<text x="113.3" y="2060.1" font-size="30.52" font-weight="bold" text-anchor="end" textLength="29.14" lengthAdjust="spacingAndGlyphs">40</text>
<text x="113.3" y="1970.29" font-size="30.52" font-weight="bold" text-anchor="end" textLength="29.14" lengthAdjust="spacingAndGlyphs">50</text>
<text x="113.3" y="1880.48" font-size="30.52" font-weight="bold" text-anchor="end" textLength="29.14" lengthAdjust="spacingAndGlyphs">60</text>
<text x="113.3" y="1790.67" font-size="30.52" font-weight="bold" text-anchor="end" textLength="29.14" lengthAdjust="spacingAndGlyphs">70</text>
<path d="M129.25 2409.25H138M129.25 2319.44H138M129.25 2229.64H138M129.25 2139.83H138M129.25 2050.02H138M129.25 1960.21H138M129.25 1870.41H138M129.25 1780.6H138M138 2409.25V2418.5M436.5 2409.25V2418.5M734.5 2409.25V2418.5" fill="none" stroke="#000" stroke-width="1.5"/>
<text x="138" y="2461" font-size="30.52" font-weight="bold" text-anchor="middle" textLength="14.57" lengthAdjust="spacingAndGlyphs">0</text>
<text x="436.5" y="2461" font-size="30.52" font-weight="bold" text-anchor="middle" textLength="36.43" lengthAdjust="spacingAndGlyphs">1.5</text>
<text x="734.5" y="2461" font-size="30.52" font-weight="bold" text-anchor="middle" textLength="36.43" lengthAdjust="spacingAndGlyphs">2.7</text>
<text y="2523.2" font-size="31.11" font-weight="bold" stroke="#fff" stroke-width="0.5"><tspan x="501" textLength="105.51" lengthAdjust="spacingAndGlyphs">Suction</tspan> <tspan x="616.34" textLength="52.56" lengthAdjust="spacingAndGlyphs">(pF)</tspan></text>
<text y="2250" font-size="31.11" font-weight="bold" stroke="#fff" stroke-width="0.5" transform="rotate(-90 53 2250)"><tspan x="52.6" textLength="86.59" lengthAdjust="spacingAndGlyphs">Water</tspan> <tspan x="145.41" textLength="102.02" lengthAdjust="spacingAndGlyphs">content</tspan> <tspan x="253.66" textLength="66.9" lengthAdjust="spacingAndGlyphs">(Vol.</tspan> <tspan x="327.47" textLength="35.93" lengthAdjust="spacingAndGlyphs">%)</tspan></text>
<text y="1828.2" font-size="31.11" font-weight="bold" stroke="#fff" stroke-width="0.5"><tspan x="255.1" textLength="33.65" lengthAdjust="spacingAndGlyphs">(e)</tspan> <tspan x="304.28" textLength="55.12" lengthAdjust="spacingAndGlyphs">50%</tspan> <tspan x="368.1" textLength="101.3" lengthAdjust="spacingAndGlyphs">biochar</tspan></text>
<path d="M138 2164.44L436.5 2293.85L734.5 2314.32" fill="none" stroke="#000" stroke-width="3.3"/>
<circle cx="138" cy="2164.44" r="7.01" fill="#000"/>
<circle cx="436.5" cy="2293.85" r="7.01" fill="#000"/>
<circle cx="734.5" cy="2314.32" r="7.01" fill="#000"/>
<path d="M138 1833.14L436.5 2075.44" fill="none" stroke="#000" stroke-width="3.3" stroke-dasharray="41.34 19.08" stroke-dashoffset="0"/><path d="M436.5 2075.44L734.5 2152.4" fill="none" stroke="#000" stroke-width="3.3" stroke-dasharray="33.15 15.3" stroke-dashoffset="17.59"/>
<circle cx="138" cy="1833.14" r="6.36" fill="#fff" stroke="#000" stroke-width="1.5"/>
<circle cx="436.5" cy="2075.44" r="6.36" fill="#fff" stroke="#000" stroke-width="1.5"/>
<circle cx="734.5" cy="2152.4" r="6.36" fill="#fff" stroke="#000" stroke-width="1.5"/>
<path d="M138 1903.64L436.5 2174.4" fill="none" stroke="#000" stroke-width="3.3" stroke-dasharray="32.27 16" stroke-dashoffset="0"/><path d="M436.5 2174.4L734.5 2220.39" fill="none" stroke="#000" stroke-width="3.3" stroke-dasharray="24.18 11.99" stroke-dashoffset="12.64"/>
<path d="M129.61 1898.8L146.39 1898.8L138 1913.61Z" fill="#000"/>
<path d="M428.11 2169.57L444.89 2169.57L436.5 2184.38Z" fill="#000"/>
<path d="M726.11 2215.55L742.89 2215.55L734.5 2230.36Z" fill="#000"/>
<path d="M138 1999.73L436.5 2236.37" fill="none" stroke="#000" stroke-width="3.3" stroke-dasharray="20.42 11.97" stroke-dashoffset="0"/><path d="M436.5 2236.37L734.5 2264.66" fill="none" stroke="#000" stroke-width="3.3" stroke-dasharray="16.07 9.42" stroke-dashoffset="19.39"/>
<path d="M130.69 2004.07L145.31 2004.07L138 1991.24Z" fill="#fff" stroke="#000" stroke-width="1.5" stroke-linejoin="miter"/>
<path d="M429.19 2240.72L443.81 2240.72L436.5 2227.88Z" fill="#fff" stroke="#000" stroke-width="1.5" stroke-linejoin="miter"/>
<path d="M727.19 2269.01L741.81 2269.01L734.5 2256.17Z" fill="#fff" stroke="#000" stroke-width="1.5" stroke-linejoin="miter"/>
<path d="M138 1899.44v3M147.14 1907.78v3M156.27 1916.12v3M165.41 1924.46v3M174.54 1932.8v3M183.68 1941.14v3M192.81 1949.48v3M201.95 1957.81v3M211.08 1966.15v3M220.22 1974.49v3M229.35 1982.83v3M238.49 1991.17v3M247.62 1999.51v3M256.76 2007.85v3M265.9 2016.19v3M275.03 2024.53v3M284.17 2032.86v3M293.3 2041.2v3M302.44 2049.54v3M311.57 2057.88v3M320.71 2066.22v3M329.84 2074.56v3M338.98 2082.9v3M348.11 2091.24v3M357.25 2099.58v3M366.38 2107.91v3M375.52 2116.25v3M384.66 2124.59v3M393.79 2132.93v3M402.93 2141.27v3M412.06 2149.61v3M421.2 2157.95v3M430.33 2166.29v3M439.47 2172.46v3M448.6 2174.15v3M457.74 2175.83v3M466.87 2177.52v3M476.01 2179.2v3M485.15 2180.89v3M494.28 2182.57v3M503.42 2184.26v3M512.55 2185.94v3M521.69 2187.63v3M530.82 2189.31v3M539.96 2191v3M549.09 2192.68v3M558.23 2194.37v3M567.36 2196.05v3M576.5 2197.74v3M585.63 2199.42v3M594.77 2201.11v3M603.91 2202.79v3M613.04 2204.48v3M622.18 2206.16v3M631.31 2207.85v3M640.45 2209.53v3M649.58 2211.22v3M658.72 2212.9v3M667.85 2214.59v3M676.99 2216.27v3M686.12 2217.96v3M695.26 2219.64v3M704.39 2221.33v3M713.53 2223.01v3M722.67 2224.7v3M731.8 2226.38v3" fill="none" stroke="#b4b4b4" stroke-width="0.8"/>
<rect x="130.69" y="1893.63" width="14.62" height="14.62" fill="#000"/>
<rect x="429.19" y="2166.11" width="14.62" height="14.62" fill="#000"/>
<rect x="727.19" y="2221.07" width="14.62" height="14.62" fill="#000"/>
<path d="M730.5 1832.25L870 1832.25" fill="none" stroke="#000" stroke-width="3.3"/>
<circle cx="799.5" cy="1832.25" r="7.01" fill="#000"/>
<text x="904.35" y="1843.75" font-size="31.11" textLength="96.89" lengthAdjust="spacingAndGlyphs">Control</text>
<path d="M730.5 1873.25L870 1873.25" fill="none" stroke="#000" stroke-width="3.3" stroke-dasharray="32.1 14.81" stroke-dashoffset="0"/>
<circle cx="799.5" cy="1873.25" r="6.36" fill="#fff" stroke="#000" stroke-width="1.5"/>
<text x="904.35" y="1884.75" font-size="31.11" textLength="70.15" lengthAdjust="spacingAndGlyphs">WBC</text>
<path d="M730.5 1914.5L870 1914.5" fill="none" stroke="#000" stroke-width="3.3" stroke-dasharray="23.9 11.85" stroke-dashoffset="0"/>
<path d="M791.11 1909.66L807.89 1909.66L799.5 1924.47Z" fill="#000"/>
<text x="904.35" y="1926" font-size="31.11" textLength="58.62" lengthAdjust="spacingAndGlyphs">BBC</text>
<path d="M730.5 1955.5L870 1955.5" fill="none" stroke="#000" stroke-width="3.3" stroke-dasharray="16 9.38" stroke-dashoffset="0"/>
<path d="M792.19 1959.85L806.81 1959.85L799.5 1947.01Z" fill="#fff" stroke="#000" stroke-width="1.5" stroke-linejoin="miter"/>
<text x="904.35" y="1967" font-size="31.11" textLength="77.8" lengthAdjust="spacingAndGlyphs">PLBC</text>
<path d="M730.5 1995v3M739.64 1995v3M748.77 1995v3M757.91 1995v3M767.04 1995v3M776.18 1995v3M785.31 1995v3M794.45 1995v3M803.58 1995v3M812.72 1995v3M821.85 1995v3M830.99 1995v3M840.12 1995v3M849.26 1995v3M858.4 1995v3M867.53 1995v3" fill="none" stroke="#b4b4b4" stroke-width="0.8"/>
<rect x="792.19" y="1989.19" width="14.62" height="14.62" fill="#000"/>
<text x="904.35" y="2008" font-size="31.11" textLength="99.99" lengthAdjust="spacingAndGlyphs">WWBC</text>
</g>
<g id="chart-f">
<rect x="1275.5" y="1791" width="883" height="607.5" fill="none" stroke="#000" stroke-width="1.5"/>
<text x="1251" y="2408.41" font-size="30.02" font-weight="bold" text-anchor="end" textLength="14.34" lengthAdjust="spacingAndGlyphs">0</text>
<text x="1251" y="2314.95" font-size="30.02" font-weight="bold" text-anchor="end" textLength="28.67" lengthAdjust="spacingAndGlyphs">20</text>
<text x="1251" y="2221.49" font-size="30.02" font-weight="bold" text-anchor="end" textLength="28.67" lengthAdjust="spacingAndGlyphs">40</text>
<text x="1251" y="2128.03" font-size="30.02" font-weight="bold" text-anchor="end" textLength="28.67" lengthAdjust="spacingAndGlyphs">60</text>
<text x="1251" y="2034.56" font-size="30.02" font-weight="bold" text-anchor="end" textLength="28.67" lengthAdjust="spacingAndGlyphs">80</text>
<text x="1251" y="1941.1" font-size="30.02" font-weight="bold" text-anchor="end" textLength="43.01" lengthAdjust="spacingAndGlyphs">100</text>
<text x="1251" y="1847.64" font-size="30.02" font-weight="bold" text-anchor="end" textLength="43.01" lengthAdjust="spacingAndGlyphs">120</text>
<path d="M1266.75 2398.5H1275.5M1266.75 2305.04H1275.5M1266.75 2211.58H1275.5M1266.75 2118.12H1275.5M1266.75 2024.65H1275.5M1266.75 1931.19H1275.5M1266.75 1837.73H1275.5M1275.5 2398.5V2407.75M1569.5 2398.5V2407.75M1863.5 2398.5V2407.75" fill="none" stroke="#000" stroke-width="1.5"/>
<text x="1275.5" y="2449" font-size="30.02" font-weight="bold" text-anchor="middle" textLength="14.34" lengthAdjust="spacingAndGlyphs">0</text>
<text x="1569.5" y="2449" font-size="30.02" font-weight="bold" text-anchor="middle" textLength="35.84" lengthAdjust="spacingAndGlyphs">1.5</text>
<text x="1863.5" y="2449" font-size="30.02" font-weight="bold" text-anchor="middle" textLength="35.84" lengthAdjust="spacingAndGlyphs">2.7</text>
<text y="2510.2" font-size="30.61" font-weight="bold" stroke="#fff" stroke-width="0.5"><tspan x="1633.5" textLength="103.95" lengthAdjust="spacingAndGlyphs">Suction</tspan> <tspan x="1747.12" textLength="51.78" lengthAdjust="spacingAndGlyphs">(pF)</tspan></text>
<text y="2242.5" font-size="30.61" font-weight="bold" stroke="#fff" stroke-width="0.5" transform="rotate(-90 1178 2242.5)"><tspan x="1177.6" textLength="83.82" lengthAdjust="spacingAndGlyphs">Water</tspan> <tspan x="1267.42" textLength="98.76" lengthAdjust="spacingAndGlyphs">content</tspan> <tspan x="1372.17" textLength="64.76" lengthAdjust="spacingAndGlyphs">(Vol.</tspan> <tspan x="1443.61" textLength="34.79" lengthAdjust="spacingAndGlyphs">%)</tspan></text>
<text y="1844.7" font-size="30.61" font-weight="bold" stroke="#fff" stroke-width="0.5"><tspan x="1328.6" textLength="29.76" lengthAdjust="spacingAndGlyphs">(f)</tspan> <tspan x="1373.57" textLength="54.03" lengthAdjust="spacingAndGlyphs">75%</tspan> <tspan x="1436.11" textLength="99.29" lengthAdjust="spacingAndGlyphs">biochar</tspan></text>
<path d="M1275.5 2270.93L1569.5 2338.4L1863.5 2348.5" fill="none" stroke="#000" stroke-width="3.3"/>
<circle cx="1275.5" cy="2270.93" r="6.9" fill="#000"/>
<circle cx="1569.5" cy="2338.4" r="6.9" fill="#000"/>
<circle cx="1863.5" cy="2348.5" r="6.9" fill="#000"/>
<path d="M1275.5 1838.67L1569.5 2059.7" fill="none" stroke="#000" stroke-width="3.3" stroke-dasharray="39.51 18.23" stroke-dashoffset="0"/><path d="M1569.5 2059.7L1863.5 2111.57" fill="none" stroke="#000" stroke-width="3.3" stroke-dasharray="32.07 14.8" stroke-dashoffset="17.33"/>
<circle cx="1275.5" cy="1838.67" r="6.25" fill="#fff" stroke="#000" stroke-width="1.5"/>
<circle cx="1569.5" cy="2059.7" r="6.25" fill="#fff" stroke="#000" stroke-width="1.5"/>
<circle cx="1863.5" cy="2111.57" r="6.25" fill="#fff" stroke="#000" stroke-width="1.5"/>
<path d="M1275.5 1911.1L1569.5 2164.85" fill="none" stroke="#000" stroke-width="3.3" stroke-dasharray="31.06 15.4" stroke-dashoffset="0"/><path d="M1569.5 2164.85L1863.5 2203.17" fill="none" stroke="#000" stroke-width="3.3" stroke-dasharray="23.71 11.76" stroke-dashoffset="12.71"/>
<path d="M1267.24 1906.34L1283.76 1906.34L1275.5 1920.91Z" fill="#000"/>
<path d="M1561.24 2160.08L1577.76 2160.08L1569.5 2174.66Z" fill="#000"/>
<path d="M1855.24 2198.4L1871.76 2198.4L1863.5 2212.98Z" fill="#000"/>
<path d="M1275.5 2122.79L1569.5 2286.35" fill="none" stroke="#000" stroke-width="3.3" stroke-dasharray="18.01 10.56" stroke-dashoffset="0"/><path d="M1569.5 2286.35L1863.5 2300.37" fill="none" stroke="#000" stroke-width="3.3" stroke-dasharray="15.76 9.24" stroke-dashoffset="19.33"/>
<path d="M1268.31 2127.06L1282.69 2127.06L1275.5 2114.43Z" fill="#fff" stroke="#000" stroke-width="1.5" stroke-linejoin="miter"/>
<path d="M1562.31 2290.62L1576.69 2290.62L1569.5 2277.99Z" fill="#fff" stroke="#000" stroke-width="1.5" stroke-linejoin="miter"/>
<path d="M1856.31 2304.64L1870.69 2304.64L1863.5 2292.01Z" fill="#fff" stroke="#000" stroke-width="1.5" stroke-linejoin="miter"/>
<path d="M1275.5 1898.85v3M1284.49 1907.48v3M1293.48 1916.11v3M1302.46 1924.74v3M1311.45 1933.37v3M1320.44 1941.99v3M1329.43 1950.62v3M1338.42 1959.25v3M1347.4 1967.88v3M1356.39 1976.51v3M1365.38 1985.14v3M1374.37 1993.77v3M1383.36 2002.4v3M1392.34 2011.03v3M1401.33 2019.66v3M1410.32 2028.28v3M1419.31 2036.91v3M1428.3 2045.54v3M1437.28 2054.17v3M1446.27 2062.8v3M1455.26 2071.43v3M1464.25 2080.06v3M1473.24 2088.69v3M1482.23 2097.32v3M1491.21 2105.94v3M1500.2 2114.57v3M1509.19 2123.2v3M1518.18 2131.83v3M1527.17 2140.46v3M1536.15 2149.09v3M1545.14 2157.72v3M1554.13 2166.35v3M1563.12 2174.98v3M1572.11 2181.42v3M1581.09 2182.5v3M1590.08 2183.59v3M1599.07 2184.68v3M1608.06 2185.76v3M1617.05 2186.85v3M1626.03 2187.93v3M1635.02 2189.02v3M1644.01 2190.1v3M1653 2191.19v3M1661.99 2192.28v3M1670.97 2193.36v3M1679.96 2194.45v3M1688.95 2195.53v3M1697.94 2196.62v3M1706.93 2197.71v3M1715.91 2198.79v3M1724.9 2199.88v3M1733.89 2200.96v3M1742.88 2202.05v3M1751.87 2203.13v3M1760.85 2204.22v3M1769.84 2205.31v3M1778.83 2206.39v3M1787.82 2207.48v3M1796.81 2208.56v3M1805.8 2209.65v3M1814.78 2210.73v3M1823.77 2211.82v3M1832.76 2212.91v3M1841.75 2213.99v3M1850.74 2215.08v3M1859.72 2216.16v3" fill="none" stroke="#b4b4b4" stroke-width="0.8"/>
<rect x="1268.31" y="1893.16" width="14.38" height="14.38" fill="#000"/>
<rect x="1562.31" y="2175.41" width="14.38" height="14.38" fill="#000"/>
<rect x="1856.31" y="2210.93" width="14.38" height="14.38" fill="#000"/>
<path d="M1829.25 1843L1966.5 1843" fill="none" stroke="#000" stroke-width="3.3"/>
<circle cx="1897" cy="1843" r="6.9" fill="#000"/>
<text x="2000.6" y="1854.5" font-size="30.61" textLength="95.6" lengthAdjust="spacingAndGlyphs">Control</text>
<path d="M1829.25 1892L1966.5 1892" fill="none" stroke="#000" stroke-width="3.3" stroke-dasharray="31.58 14.58" stroke-dashoffset="0"/>
<circle cx="1897" cy="1892" r="6.25" fill="#fff" stroke="#000" stroke-width="1.5"/>
<text x="2000.6" y="1903.5" font-size="30.61" textLength="69.22" lengthAdjust="spacingAndGlyphs">WBC</text>
<path d="M1829.25 1940.75L1966.5 1940.75" fill="none" stroke="#000" stroke-width="3.3" stroke-dasharray="23.51 11.66" stroke-dashoffset="0"/>
<path d="M1888.74 1935.99L1905.26 1935.99L1897 1950.56Z" fill="#000"/>
<text x="2000.6" y="1952.25" font-size="30.61" textLength="57.84" lengthAdjust="spacingAndGlyphs">BBC</text>
<path d="M1829.25 1990.25L1966.5 1990.25" fill="none" stroke="#000" stroke-width="3.3" stroke-dasharray="15.74 9.23" stroke-dashoffset="0"/>
<path d="M1889.81 1994.53L1904.19 1994.53L1897 1981.89Z" fill="#fff" stroke="#000" stroke-width="1.5" stroke-linejoin="miter"/>
<text x="2000.6" y="2001.75" font-size="30.61" textLength="76.77" lengthAdjust="spacingAndGlyphs">PLBC</text>
<path d="M1829.25 2037.5v3M1838.24 2037.5v3M1847.23 2037.5v3M1856.21 2037.5v3M1865.2 2037.5v3M1874.19 2037.5v3M1883.18 2037.5v3M1892.17 2037.5v3M1901.15 2037.5v3M1910.14 2037.5v3M1919.13 2037.5v3M1928.12 2037.5v3M1937.11 2037.5v3M1946.09 2037.5v3M1955.08 2037.5v3M1964.07 2037.5v3" fill="none" stroke="#b4b4b4" stroke-width="0.8"/>
<rect x="1889.81" y="2031.81" width="14.38" height="14.38" fill="#000"/>
<text x="2000.6" y="2050.5" font-size="30.61" textLength="98.66" lengthAdjust="spacingAndGlyphs">WWBC</text>
</g>
<g id="chart-g">
<rect x="150.5" y="2651" width="884.25" height="612.25" fill="none" stroke="#000" stroke-width="1.5"/>
<text x="126" y="3273.18" font-size="30.08" font-weight="bold" text-anchor="end" textLength="14.36" lengthAdjust="spacingAndGlyphs">0</text>
<text x="126" y="3185.71" font-size="30.08" font-weight="bold" text-anchor="end" textLength="43.09" lengthAdjust="spacingAndGlyphs">100</text>
<text x="126" y="3098.25" font-size="30.08" font-weight="bold" text-anchor="end" textLength="43.09" lengthAdjust="spacingAndGlyphs">200</text>
<text x="126" y="3010.79" font-size="30.08" font-weight="bold" text-anchor="end" textLength="43.09" lengthAdjust="spacingAndGlyphs">300</text>
<text x="126" y="2923.32" font-size="30.08" font-weight="bold" text-anchor="end" textLength="43.09" lengthAdjust="spacingAndGlyphs">400</text>
<text x="126" y="2835.86" font-size="30.08" font-weight="bold" text-anchor="end" textLength="43.09" lengthAdjust="spacingAndGlyphs">500</text>
<text x="126" y="2748.39" font-size="30.08" font-weight="bold" text-anchor="end" textLength="43.09" lengthAdjust="spacingAndGlyphs">600</text>
<text x="126" y="2660.93" font-size="30.08" font-weight="bold" text-anchor="end" textLength="43.09" lengthAdjust="spacingAndGlyphs">700</text>
<path d="M141.75 3263.25H150.5M141.75 3175.79H150.5M141.75 3088.32H150.5M141.75 3000.86H150.5M141.75 2913.39H150.5M141.75 2825.93H150.5M141.75 2738.46H150.5M141.75 2651H150.5M150.5 3263.25V3272.5M444.5 3263.25V3272.5M739.5 3263.25V3272.5" fill="none" stroke="#000" stroke-width="1.5"/>
<text x="150.5" y="3314.5" font-size="30.08" font-weight="bold" text-anchor="middle" textLength="14.36" lengthAdjust="spacingAndGlyphs">0</text>
<text x="444.5" y="3314.5" font-size="30.08" font-weight="bold" text-anchor="middle" textLength="35.91" lengthAdjust="spacingAndGlyphs">1.5</text>
<text x="739.5" y="3314.5" font-size="30.08" font-weight="bold" text-anchor="middle" textLength="35.91" lengthAdjust="spacingAndGlyphs">2.7</text>
<text y="3375.2" font-size="30.66" font-weight="bold" stroke="#fff" stroke-width="0.5"><tspan x="508.5" textLength="104.89" lengthAdjust="spacingAndGlyphs">Suction</tspan> <tspan x="623.15" textLength="52.25" lengthAdjust="spacingAndGlyphs">(pF)</tspan></text>
<text y="3105" font-size="30.66" font-weight="bold" stroke="#fff" stroke-width="0.5" transform="rotate(-90 52 3105)"><tspan x="51.6" textLength="84.44" lengthAdjust="spacingAndGlyphs">Water</tspan> <tspan x="142.09" textLength="99.49" lengthAdjust="spacingAndGlyphs">content</tspan> <tspan x="247.62" textLength="58.01" lengthAdjust="spacingAndGlyphs">(Vol</tspan> <tspan x="312.35" textLength="35.05" lengthAdjust="spacingAndGlyphs">%)</tspan></text>
<text y="2695.7" font-size="30.66" font-weight="bold" stroke="#fff" stroke-width="0.5"><tspan x="189.6" textLength="34.93" lengthAdjust="spacingAndGlyphs">(g)</tspan> <tspan x="239.89" textLength="69.21" lengthAdjust="spacingAndGlyphs">100%</tspan> <tspan x="317.7" textLength="100.2" lengthAdjust="spacingAndGlyphs">biochar</tspan></text>
<path d="M150.5 3239.37L444.5 3251.97L739.5 3253.98" fill="none" stroke="#000" stroke-width="3.3"/>
<circle cx="150.5" cy="3239.37" r="6.91" fill="#000"/>
<circle cx="444.5" cy="3251.97" r="6.91" fill="#000"/>
<circle cx="739.5" cy="3253.98" r="6.91" fill="#000"/>
<path d="M150.5 2707.5L444.5 2948.38" fill="none" stroke="#000" stroke-width="3.3" stroke-dasharray="40.9 18.88" stroke-dashoffset="0"/><path d="M444.5 2948.38L739.5 2973.83" fill="none" stroke="#000" stroke-width="3.3" stroke-dasharray="31.75 14.66" stroke-dashoffset="16.63"/>
<circle cx="150.5" cy="2707.5" r="6.26" fill="#fff" stroke="#000" stroke-width="1.5"/>
<circle cx="444.5" cy="2948.38" r="6.26" fill="#fff" stroke="#000" stroke-width="1.5"/>
<circle cx="739.5" cy="2973.83" r="6.26" fill="#fff" stroke="#000" stroke-width="1.5"/>
<path d="M150.5 2749.92L444.5 3093.31" fill="none" stroke="#000" stroke-width="3.3" stroke-dasharray="31.01 15.38" stroke-dashoffset="0"/><path d="M444.5 3093.31L739.5 3128.82" fill="none" stroke="#000" stroke-width="3.3" stroke-dasharray="23.73 11.77" stroke-dashoffset="26.42"/>
<path d="M142.23 2745.15L158.77 2745.15L150.5 2759.75Z" fill="#000"/>
<path d="M436.23 3088.54L452.77 3088.54L444.5 3103.14Z" fill="#000"/>
<path d="M731.23 3124.05L747.77 3124.05L739.5 3138.65Z" fill="#000"/>
<path d="M150.5 3178.41L444.5 3232.72" fill="none" stroke="#000" stroke-width="3.3" stroke-dasharray="16.04 9.4" stroke-dashoffset="0"/><path d="M444.5 3232.72L739.5 3234.74" fill="none" stroke="#000" stroke-width="3.3" stroke-dasharray="15.77 9.25" stroke-dashoffset="18.81"/>
<path d="M143.3 3182.69L157.7 3182.69L150.5 3170.04Z" fill="#fff" stroke="#000" stroke-width="1.5" stroke-linejoin="miter"/>
<path d="M437.3 3237.01L451.7 3237.01L444.5 3224.35Z" fill="#fff" stroke="#000" stroke-width="1.5" stroke-linejoin="miter"/>
<path d="M732.3 3239.02L746.7 3239.02L739.5 3226.36Z" fill="#fff" stroke="#000" stroke-width="1.5" stroke-linejoin="miter"/>
<path d="M150.5 3044.84v3M159.5 3048.65v3M168.51 3052.46v3M177.51 3056.27v3M186.52 3060.09v3M195.52 3063.9v3M204.53 3067.71v3M213.53 3071.52v3M222.54 3075.33v3M231.54 3079.15v3M240.54 3082.96v3M249.55 3086.77v3M258.55 3090.58v3M267.56 3094.39v3M276.56 3098.21v3M285.57 3102.02v3M294.57 3105.83v3M303.58 3109.64v3M312.58 3113.45v3M321.58 3117.27v3M330.59 3121.08v3M339.59 3124.89v3M348.6 3128.7v3M357.6 3132.51v3M366.61 3136.32v3M375.61 3140.14v3M384.62 3143.95v3M393.62 3147.76v3M402.62 3151.57v3M411.63 3155.38v3M420.63 3159.2v3M429.64 3163.01v3M438.64 3166.82v3M447.65 3169.41v3M456.65 3169.73v3M465.65 3170.05v3M474.66 3170.37v3M483.66 3170.69v3M492.67 3171.01v3M501.67 3171.33v3M510.68 3171.65v3M519.68 3171.98v3M528.69 3172.3v3M537.69 3172.62v3M546.69 3172.94v3M555.7 3173.26v3M564.7 3173.58v3M573.71 3173.9v3M582.71 3174.22v3M591.72 3174.54v3M600.72 3174.86v3M609.73 3175.18v3M618.73 3175.5v3M627.73 3175.82v3M636.74 3176.14v3M645.74 3176.46v3M654.75 3176.78v3M663.75 3177.1v3M672.76 3177.42v3M681.76 3177.74v3M690.77 3178.06v3M699.77 3178.38v3M708.77 3178.7v3M717.78 3179.02v3M726.78 3179.34v3M735.79 3179.66v3" fill="none" stroke="#b4b4b4" stroke-width="0.8"/>
<rect x="143.3" y="3039.14" width="14.41" height="14.41" fill="#000"/>
<rect x="437.3" y="3163.6" width="14.41" height="14.41" fill="#000"/>
<rect x="732.3" y="3174.09" width="14.41" height="14.41" fill="#000"/>
<path d="M727.5 2707.5L865 2707.5" fill="none" stroke="#000" stroke-width="3.3"/>
<circle cx="795.75" cy="2707.5" r="6.91" fill="#000"/>
<text x="899.35" y="2718.75" font-size="30.66" textLength="95.6" lengthAdjust="spacingAndGlyphs">Control</text>
<path d="M727.5 2747.5L865 2747.5" fill="none" stroke="#000" stroke-width="3.3" stroke-dasharray="31.64 14.6" stroke-dashoffset="0"/>
<circle cx="795.75" cy="2747.5" r="6.26" fill="#fff" stroke="#000" stroke-width="1.5"/>
<text x="899.35" y="2758.75" font-size="30.66" textLength="69.22" lengthAdjust="spacingAndGlyphs">WBC</text>
<path d="M727.5 2788L865 2788" fill="none" stroke="#000" stroke-width="3.3" stroke-dasharray="23.56 11.68" stroke-dashoffset="0"/>
<path d="M787.48 2783.23L804.02 2783.23L795.75 2797.83Z" fill="#000"/>
<text x="899.35" y="2799.25" font-size="30.66" textLength="57.84" lengthAdjust="spacingAndGlyphs">BBC</text>
<path d="M727.5 2828L865 2828" fill="none" stroke="#000" stroke-width="3.3" stroke-dasharray="15.77 9.25" stroke-dashoffset="0"/>
<path d="M788.55 2832.28L802.95 2832.28L795.75 2819.63Z" fill="#fff" stroke="#000" stroke-width="1.5" stroke-linejoin="miter"/>
<text x="899.35" y="2839.25" font-size="30.66" textLength="76.77" lengthAdjust="spacingAndGlyphs">PLBC</text>
<path d="M727.5 2866.5v3M736.5 2866.5v3M745.51 2866.5v3M754.51 2866.5v3M763.52 2866.5v3M772.52 2866.5v3M781.53 2866.5v3M790.53 2866.5v3M799.54 2866.5v3M808.54 2866.5v3M817.54 2866.5v3M826.55 2866.5v3M835.55 2866.5v3M844.56 2866.5v3M853.56 2866.5v3M862.57 2866.5v3" fill="none" stroke="#b4b4b4" stroke-width="0.8"/>
<rect x="788.55" y="2860.8" width="14.41" height="14.41" fill="#000"/>
<text x="899.35" y="2879.25" font-size="30.66" textLength="98.66" lengthAdjust="spacingAndGlyphs">WWBC</text>
</g>
</svg>
</body>
</html>
